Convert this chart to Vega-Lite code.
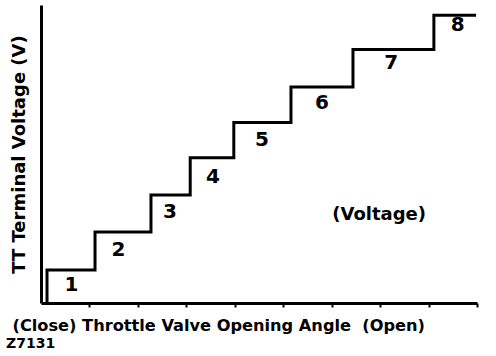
{
  "$schema": "https://vega.github.io/schema/vega-lite/v6.json",
  "width": 436,
  "height": 298,
  "autosize": {"type": "none"},
  "padding": {"left": 41, "top": 5, "right": 19, "bottom": 53},
  "background": "white",
  "config": {
    "view": {"stroke": null},
    "font": "DejaVu Sans"
  },
  "title": {
    "text": "Z7131",
    "orient": "bottom",
    "anchor": "start",
    "frame": "group",
    "fontSize": 14,
    "font": "DejaVu Sans",
    "fontWeight": "bold",
    "color": "black",
    "dx": -35,
    "offset": 4
  },
  "datasets": {
    "steps": [
      {"angle": 0.124, "voltage": 0.05},
      {"angle": 0.124, "voltage": 1.11},
      {"angle": 1.115, "voltage": 2.38},
      {"angle": 2.27, "voltage": 3.62},
      {"angle": 3.08, "voltage": 4.87},
      {"angle": 3.98, "voltage": 6.06},
      {"angle": 5.16, "voltage": 7.25},
      {"angle": 6.44, "voltage": 8.51},
      {"angle": 8.11, "voltage": 9.66},
      {"angle": 8.95, "voltage": 9.66}
    ],
    "labels": [
      {"angle": 0.63, "voltage": 0.62, "label": "1", "size": 20},
      {"angle": 1.6, "voltage": 1.78, "label": "2", "size": 20},
      {"angle": 2.66, "voltage": 3.05, "label": "3", "size": 20},
      {"angle": 3.55, "voltage": 4.23, "label": "4", "size": 20},
      {"angle": 4.56, "voltage": 5.47, "label": "5", "size": 20},
      {"angle": 5.8, "voltage": 6.71, "label": "6", "size": 20},
      {"angle": 7.23, "voltage": 8.05, "label": "7", "size": 20},
      {"angle": 8.6, "voltage": 9.33, "label": "8", "size": 20},
      {"angle": 6.98, "voltage": 2.95, "label": "(Voltage)", "size": 18}
    ]
  },
  "layer": [
    {
      "data": {"name": "steps"},
      "mark": {"type": "line", "interpolate": "step-after", "color": "black", "strokeWidth": 3, "strokeCap": "square"},
      "encoding": {
        "x": {
          "field": "angle",
          "type": "quantitative",
          "scale": {"domain": [0, 9], "nice": false, "zero": false},
          "axis": {
            "title": "(Close) Throttle Valve Opening Angle\u00a0\u00a0(Open)",
            "titleFont": "DejaVu Sans",
            "titleFontWeight": "bold",
            "titleFontSize": 16.2,
            "titleColor": "black",
            "titleAnchor": "start",
            "titleAlign": "left",
            "titleX": -29,
            "titlePadding": 9,
            "values": [1, 2, 3, 4, 5, 6, 7, 8, 9],
            "labels": false,
            "grid": false,
            "domainColor": "black",
            "domainWidth": 3,
            "tickColor": "black",
            "tickWidth": 2,
            "tickSize": 4
          }
        },
        "y": {
          "field": "voltage",
          "type": "quantitative",
          "scale": {"domain": [0, 10], "nice": false, "zero": false},
          "axis": {
            "title": "TT Terminal Voltage (V)",
            "titleFont": "DejaVu Sans",
            "titleFontWeight": "bold",
            "titleFontSize": 18,
            "titleColor": "black",
            "titlePadding": 13,
            "labels": false,
            "ticks": false,
            "grid": false,
            "domainColor": "black",
            "domainWidth": 3
          }
        },
        "order": {"field": "angle"}
      }
    },
    {
      "data": {"name": "labels"},
      "mark": {"type": "text", "font": "DejaVu Sans", "fontWeight": "bold", "color": "black", "align": "center", "baseline": "middle"},
      "encoding": {
        "x": {"field": "angle", "type": "quantitative"},
        "y": {"field": "voltage", "type": "quantitative"},
        "text": {"field": "label"},
        "size": {"field": "size", "type": "quantitative", "scale": null}
      }
    }
  ]
}
